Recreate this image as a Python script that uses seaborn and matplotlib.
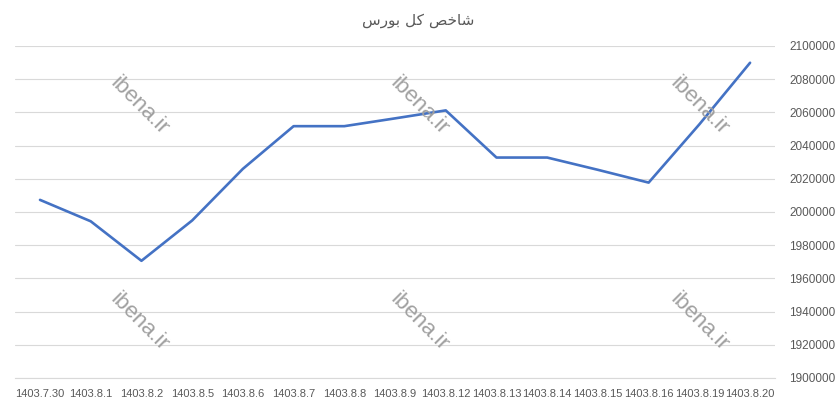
import matplotlib
matplotlib.use("Agg")
import matplotlib.pyplot as plt
import seaborn as sns
import pandas as pd

dates = ["1403.7.30", "1403.8.1", "1403.8.2", "1403.8.5", "1403.8.6", "1403.8.7",
         "1403.8.8", "1403.8.9", "1403.8.12", "1403.8.13", "1403.8.14", "1403.8.15",
         "1403.8.16", "1403.8.19", "1403.8.20"]
index_values = [2007300, 1994400, 1970600, 1994900, 2026000, 2051700,
                2051700, 2056400, 2061200, 2032800, 2032800, 2025400,
                2017700, 2052800, 2089900]
y_ticks = list(range(1900000, 2100001, 20000))
# title "شاخص کل بورس" in visual (shaped, left-to-right) order
title_text = "\uFEB1\uFEAD\uFEEE\uFE91 \uFEDE\uFB90 \uFEBA\uFEA7\uFE8E\uFEB7"
watermark = "ibena.ir"

sns.set_theme(style="white")
plt.rcParams["font.family"] = ["Liberation Sans", "DejaVu Sans"]

df = pd.DataFrame({"date": dates, "value": index_values})

fig = plt.figure(figsize=(8.4, 4.11), dpi=100)
ax = fig.add_axes([0.01744, 0.0803, 0.9057, 0.8078])

# watermarks
for xf in [139 / 840, 419 / 840, 699 / 840]:
    for yf in [1 - 106 / 411, 1 - 322 / 411]:
        fig.text(xf, yf, watermark, rotation=-45, ha="center", va="center",
                 fontsize=16, color="#a0a0a0", zorder=0)

sns.lineplot(data=df, x="date", y="value", ax=ax, color="#4472C4",
             linewidth=1.9, sort=False, zorder=3)

ax.set_xlim(-0.5, len(dates) - 0.5)
ax.set_ylim(y_ticks[0], y_ticks[-1])
ax.set_yticks(y_ticks)
ax.set_yticklabels([str(v) for v in y_ticks])
ax.yaxis.tick_right()
ax.grid(axis="y", color="#d9d9d9", linewidth=0.8)
ax.grid(axis="x", visible=False)
for s in ax.spines.values():
    s.set_visible(False)
ax.spines["bottom"].set_visible(True)
ax.spines["bottom"].set_color("#d9d9d9")
ax.spines["bottom"].set_linewidth(0.8)
ax.set_xlabel("")
ax.set_ylabel("")
ax.tick_params(axis="x", length=0, pad=8, labelsize=8, labelcolor="#595959")
ax.tick_params(axis="y", length=0, pad=10, labelsize=8.5, labelcolor="#595959")
ax.patch.set_alpha(0)

fig.text(418 / 840, 1 - 20 / 411, title_text, ha="center", va="center",
         fontsize=11, color="#595959", family=["DejaVu Sans"])

fig.savefig("out.png", dpi=100)
